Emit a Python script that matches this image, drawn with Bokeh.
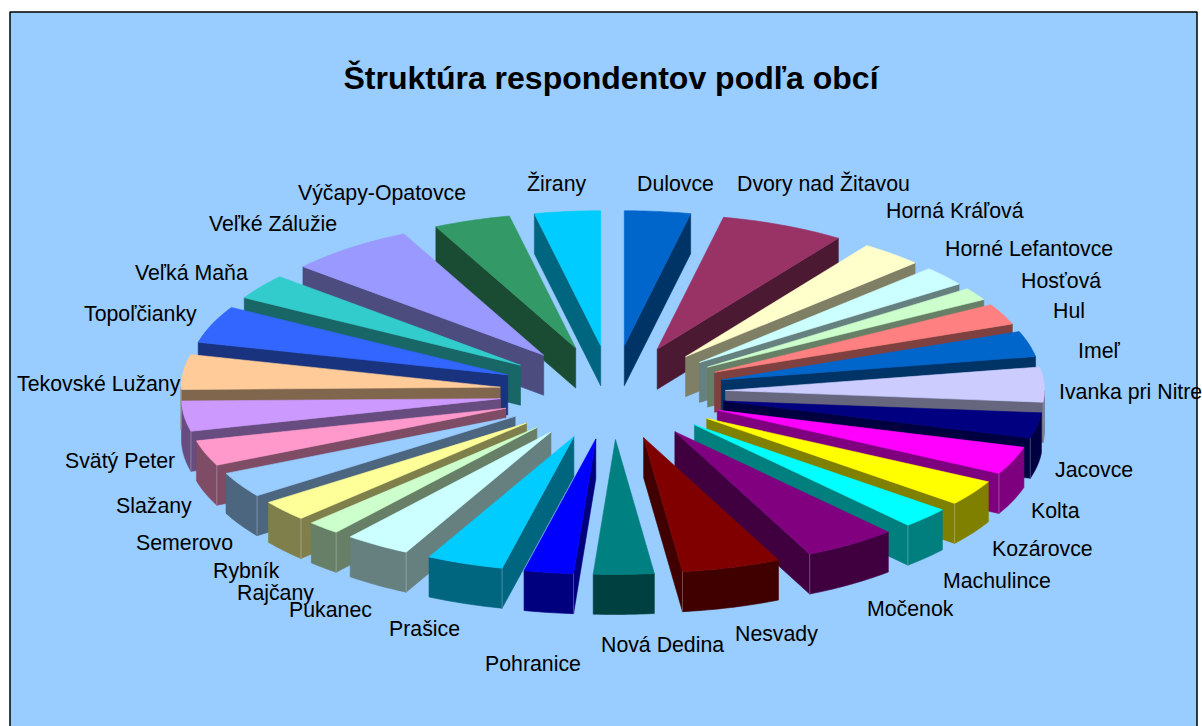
import math
from bokeh.plotting import figure, ColumnDataSource
from bokeh.core.properties import value
from bokeh.embed import file_html
from bokeh.resources import INLINE

title = "Štruktúra respondentov podľa obcí"
categories = ["Dulovce", "Dvory nad Žitavou", "Horná Kráľová", "Horné Lefantovce", "Hosťová", "Hul",
              "Imeľ", "Ivanka pri Nitre", "Jacovce", "Kolta", "Kozárovce", "Machulince", "Močenok",
              "Nesvady", "Nová Dedina", "Pohranice", "Prašice", "Pukanec", "Rajčany", "Rybník",
              "Semerovo", "Slažany", "Svätý Peter", "Tekovské Lužany", "Topoľčianky", "Veľká Maňa",
              "Veľké Zálužie", "Výčapy-Opatovce", "Žirany"]
# Slice shares
shares = [12, 22.6, 11.4, 8.5, 5.5, 9, 11, 15, 11, 12, 11, 9, 17, 18, 11, 9, 14, 12, 6, 9, 11, 11, 13, 15, 16, 11, 23, 14, 12]
colors = ["#0066CC", "#993366", "#FFFFCC", "#CCFFFF", "#CCFFCC", "#FF8080", "#0066CC", "#CCCCFF", "#000080",
          "#FF00FF", "#FFFF00", "#00FFFF", "#800080", "#800000", "#008080", "#0000FF", "#00CCFF", "#CCFFFF",
          "#CCFFCC", "#FFFF99", "#99CCFF", "#FF99CC", "#CC99FF", "#FFCC99", "#3366FF", "#33CCCC", "#9999FF",
          "#339966", "#00CCFF"]
# Label placement on the page (left edge, vertical centre)
label_x = [636.5, 736.5, 885.5, 944.5, 1020.5, 1052.5, 1077.5, 1058.5, 1054.5, 1030.5, 991.5, 942.5, 866.5, 734.5,
           600.5, 484.5, 388.5, 288.5, 236.5, 212.5, 135.5, 115.5, 64.5, 16.5, 83.5, 134.5, 208.5, 297.5, 526.5]
label_y = [183, 183, 210, 248, 280, 310, 350, 391, 469, 510, 548, 580, 608, 633, 644, 663, 628, 609, 592,
           570, 542, 505, 460, 383, 313, 272, 223, 192, 183]

CX, CY = 612, 392
EX, EY = 113, 47     # explosion offset
RX, RY = 319, 135    # slice radius on the page
DEPTH = 40
FRAME = "#99CCFF"


def shade(hex_color, k=0.5):
    r, g, b = (int(hex_color[i:i + 2], 16) for i in (1, 3, 5))
    return "#%02X%02X%02X" % (int(r * k), int(g * k), int(b * k))


def lighten(hex_color, k=0.35):
    r, g, b = (int(hex_color[i:i + 2], 16) for i in (1, 3, 5))
    return "#%02X%02X%02X" % (int(r + (255 - r) * k), int(g + (255 - g) * k), int(b + (255 - b) * k))


def rim_pt(tip, deg):
    a = math.radians(deg)
    return tip[0] + RX * math.sin(a), tip[1] - RY * math.cos(a)


total = sum(shares)
slices = []
acc = 0.0
for v, col in zip(shares, colors):
    a0 = acc / total * 360
    acc += v
    a1 = acc / total * 360
    mid = math.radians((a0 + a1) / 2)
    tip = (CX + EX * math.sin(mid), CY - EY * math.cos(mid))
    slices.append((a0, a1, tip, col))

# back to front
order = sorted(slices, key=lambda s: abs(((s[0] + s[1]) / 2 + 180) % 360 - 180))

xs, ys, fills = [], [], []
ex0, ey0, ex1, ey1, ecol = [], [], [], [], []


def add(poly, col):
    xs.append([q[0] for q in poly])
    ys.append([q[1] for q in poly])
    fills.append(col)


for a0, a1, tip, col in order:
    dark = shade(col)
    if a1 <= 180:
        r = rim_pt(tip, a1)
        add([tip, r, (r[0], r[1] + DEPTH), (tip[0], tip[1] + DEPTH)], dark)
    if a0 >= 180:
        r = rim_pt(tip, a0)
        add([tip, r, (r[0], r[1] + DEPTH), (tip[0], tip[1] + DEPTH)], dark)
    lo, hi = max(a0, 90), min(a1, 270)
    if hi > lo:
        n = max(2, int(hi - lo) + 2)
        arc = [rim_pt(tip, lo + (hi - lo) * i / (n - 1)) for i in range(n)]
        add(arc + [(q[0], q[1] + DEPTH) for q in reversed(arc)], dark)
    n = max(2, int(a1 - a0) + 2)
    add([tip] + [rim_pt(tip, a0 + (a1 - a0) * i / (n - 1)) for i in range(n)], col)
    corner = a1 if a1 <= 180 else (a0 if a0 >= 180 else None)
    if corner is not None and 90 < corner < 270:
        r = rim_pt(tip, corner)
        ex0.append(r[0]); ey0.append(r[1]); ex1.append(r[0]); ey1.append(r[1] + DEPTH)
        ecol.append(lighten(dark))

p = figure(width=1202, height=726, x_range=(0, 1202), y_range=(726, 0), output_backend="svg",
           toolbar_location=None, min_border=0, outline_line_color=None, background_fill_color="white",
           border_fill_color="white")
p.axis.visible = False
p.grid.visible = False

p.quad(left=[9.5], right=[1196.5], top=[11.5], bottom=[760], fill_color=FRAME, line_color="black", line_width=1.5)
p.patches("xs", "ys", fill_color="fills", line_color="fills", line_width=0.6,
          source=ColumnDataSource(dict(xs=xs, ys=ys, fills=fills)))

# thin lighter edges between rim and side wall
p.segment(ex0, ey0, ex1, ey1, line_color=ecol, line_width=0.8)

p.text(x=[610.5], y=[77.5], text=[title], text_font=value("Liberation Sans"), text_font_style="bold",
       text_font_size="32px", text_align="center", text_baseline="middle", text_color="black")
p.text(x=label_x, y=label_y, text=categories, text_font=value("Liberation Sans"), text_font_size="21.3px",
       text_align="left", text_baseline="middle", text_color="black")

open("out.html", "w").write(file_html(p, INLINE))
